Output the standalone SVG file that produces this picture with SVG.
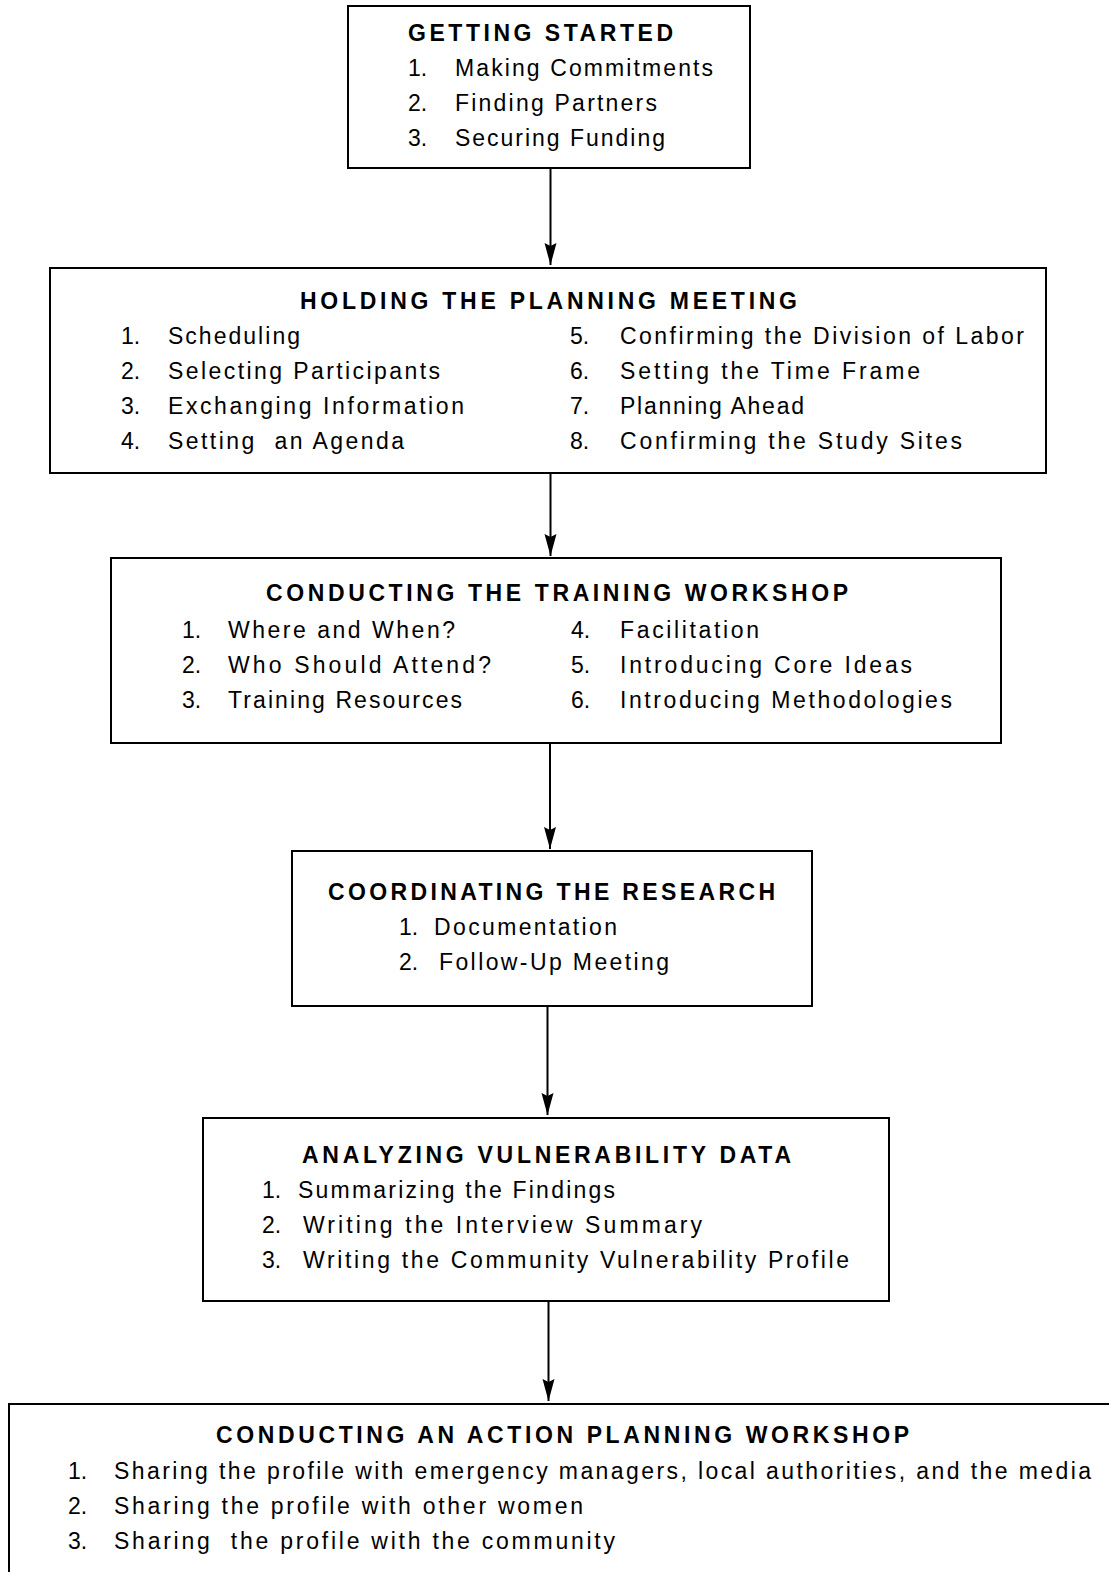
<svg xmlns="http://www.w3.org/2000/svg" width="1109" height="1572" viewBox="0 0 1109 1572">
<style>
  .box { fill: #fff; stroke: #000; stroke-width: 2; }
  .t { font-family: "Liberation Sans", Arial, sans-serif; font-size: 23px; fill: #000; }
  .h { font-weight: bold; }
  .edge { stroke: #000; stroke-width: 2; fill: none; marker-end: url(#arrow); }
</style>
<defs>
  <marker id="arrow" markerUnits="userSpaceOnUse" markerWidth="24" markerHeight="14" refX="22" refY="6" orient="auto">
    <path d="M0,0 L22,6 L0,12 L3,6 z" fill="#000"/>
  </marker>
</defs>
<rect width="1109" height="1572" fill="#fff"/>

<g id="connectors">
  <line class="edge" x1="550.5" y1="168" x2="550.5" y2="265"/>
  <line class="edge" x1="550.5" y1="473" x2="550.5" y2="556"/>
  <line class="edge" x1="550" y1="743" x2="550" y2="849"/>
  <line class="edge" x1="547.5" y1="1006" x2="547.5" y2="1115"/>
  <line class="edge" x1="548.5" y1="1301" x2="548.5" y2="1401"/>
</g>

<g id="getting-started">
  <rect class="box" x="348" y="6" width="402" height="162"/>
  <text class="t h" x="408" y="41" textLength="265" lengthAdjust="spacing">GETTING STARTED</text>
  <text class="t" x="408" y="76">1.</text>
  <text class="t" x="455" y="76" textLength="258" lengthAdjust="spacing">Making Commitments</text>
  <text class="t" x="408" y="111">2.</text>
  <text class="t" x="455" y="111" textLength="202" lengthAdjust="spacing">Finding Partners</text>
  <text class="t" x="408" y="146">3.</text>
  <text class="t" x="455" y="146" textLength="210" lengthAdjust="spacing">Securing Funding</text>
</g>

<g id="planning-meeting">
  <rect class="box" x="50" y="268" width="996" height="205"/>
  <text class="t h" x="300" y="309" textLength="497" lengthAdjust="spacing">HOLDING THE PLANNING MEETING</text>
  <text class="t" x="121" y="344">1.</text>
  <text class="t" x="168" y="344" textLength="132" lengthAdjust="spacing">Scheduling</text>
  <text class="t" x="121" y="379">2.</text>
  <text class="t" x="168" y="379" textLength="272" lengthAdjust="spacing">Selecting Participants</text>
  <text class="t" x="121" y="414">3.</text>
  <text class="t" x="168" y="414" textLength="296" lengthAdjust="spacing">Exchanging Information</text>
  <text class="t" x="121" y="449">4.</text>
  <text class="t" x="168" y="449" textLength="236" lengthAdjust="spacing" xml:space="preserve">Setting  an Agenda</text>
  <text class="t" x="570" y="344">5.</text>
  <text class="t" x="620" y="344" textLength="404" lengthAdjust="spacing">Confirming the Division of Labor</text>
  <text class="t" x="570" y="379">6.</text>
  <text class="t" x="620" y="379" textLength="300" lengthAdjust="spacing">Setting the Time Frame</text>
  <text class="t" x="570" y="414">7.</text>
  <text class="t" x="620" y="414" textLength="184" lengthAdjust="spacing">Planning Ahead</text>
  <text class="t" x="570" y="449">8.</text>
  <text class="t" x="620" y="449" textLength="342" lengthAdjust="spacing">Confirming the Study Sites</text>
</g>

<g id="training-workshop">
  <rect class="box" x="111" y="558" width="890" height="185"/>
  <text class="t h" x="266" y="601" textLength="582" lengthAdjust="spacing">CONDUCTING THE TRAINING WORKSHOP</text>
  <text class="t" x="182" y="638">1.</text>
  <text class="t" x="228" y="638" textLength="227" lengthAdjust="spacing">Where and When?</text>
  <text class="t" x="182" y="673">2.</text>
  <text class="t" x="228" y="673" textLength="263" lengthAdjust="spacing">Who Should Attend?</text>
  <text class="t" x="182" y="708">3.</text>
  <text class="t" x="228" y="708" textLength="234" lengthAdjust="spacing">Training Resources</text>
  <text class="t" x="571" y="638">4.</text>
  <text class="t" x="620" y="638" textLength="139" lengthAdjust="spacing">Facilitation</text>
  <text class="t" x="571" y="673">5.</text>
  <text class="t" x="620" y="673" textLength="292" lengthAdjust="spacing">Introducing Core Ideas</text>
  <text class="t" x="571" y="708">6.</text>
  <text class="t" x="620" y="708" textLength="332" lengthAdjust="spacing">Introducing Methodologies</text>
</g>

<g id="coordinating-research">
  <rect class="box" x="292" y="851" width="520" height="155"/>
  <text class="t h" x="328" y="900" textLength="447" lengthAdjust="spacing">COORDINATING THE RESEARCH</text>
  <text class="t" x="399" y="935">1.</text>
  <text class="t" x="434" y="935" textLength="183" lengthAdjust="spacing">Documentation</text>
  <text class="t" x="399" y="970">2.</text>
  <text class="t" x="439" y="970" textLength="230" lengthAdjust="spacing">Follow-Up Meeting</text>
</g>

<g id="analyzing-data">
  <rect class="box" x="203" y="1118" width="686" height="183"/>
  <text class="t h" x="302" y="1163" textLength="489" lengthAdjust="spacing">ANALYZING VULNERABILITY DATA</text>
  <text class="t" x="262" y="1198">1.</text>
  <text class="t" x="298" y="1198" textLength="317" lengthAdjust="spacing">Summarizing the Findings</text>
  <text class="t" x="262" y="1233">2.</text>
  <text class="t" x="303" y="1233" textLength="399" lengthAdjust="spacing">Writing the Interview Summary</text>
  <text class="t" x="262" y="1268">3.</text>
  <text class="t" x="303" y="1268" textLength="546" lengthAdjust="spacing">Writing the Community Vulnerability Profile</text>
</g>

<g id="action-planning">
  <rect class="box" x="9" y="1404" width="1200" height="300"/>
  <text class="t h" x="216" y="1443" textLength="693" lengthAdjust="spacing">CONDUCTING AN ACTION PLANNING WORKSHOP</text>
  <text class="t" x="68" y="1479">1.</text>
  <text class="t" x="114" y="1479" textLength="977" lengthAdjust="spacing">Sharing the profile with emergency managers, local authorities, and the media</text>
  <text class="t" x="68" y="1514">2.</text>
  <text class="t" x="114" y="1514" textLength="469" lengthAdjust="spacing">Sharing the profile with other women</text>
  <text class="t" x="68" y="1549">3.</text>
  <text class="t" x="114" y="1549" textLength="501" lengthAdjust="spacing" xml:space="preserve">Sharing  the profile with the community</text>
</g>
</svg>
